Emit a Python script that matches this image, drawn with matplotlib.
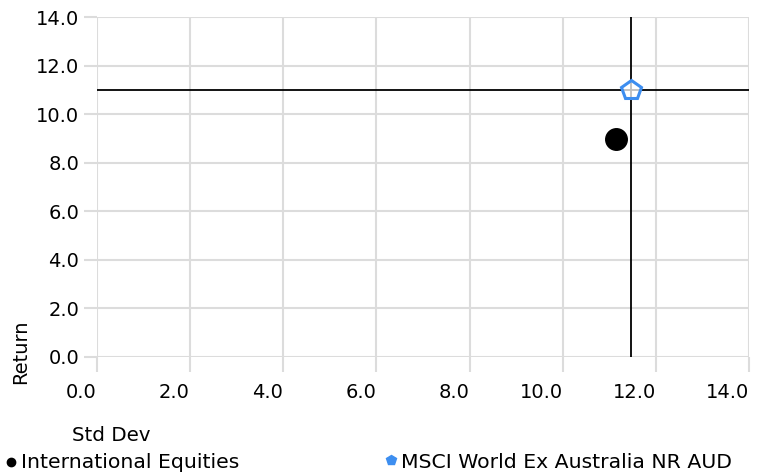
import matplotlib.pyplot as plt

# Risk / return values (annualised, %)
names = ['International Equities', 'MSCI World Ex Australia NR AUD']
std_dev = [11.15, 11.47]
returns = [8.97, 11.0]

ticks = [0, 2, 4, 6, 8, 10, 12, 14]
tick_labels = ['%.1f' % t for t in ticks]

grid_col = '#dcdcdc'
blue = '#3d8ef0'
fs = 14

plt.rcParams['font.family'] = ['DejaVu Sans']
fig = plt.figure(figsize=(7.62, 4.74), dpi=100)
ax = fig.add_axes([0.127, 0.247, 0.856, 0.717])

ax.set_xlim(0, 14)
ax.set_ylim(0, 14)
ax.set_xticks(ticks)
ax.set_yticks(ticks)
ax.set_xticklabels(tick_labels, ha='right')
ax.set_yticklabels(tick_labels)
ax.grid(True, color=grid_col, linewidth=1.5)
ax.set_axisbelow(True)
for s in ax.spines.values():
    s.set_visible(False)
ax.tick_params(axis='x', length=11, width=1.5, color=grid_col, labelsize=fs, pad=8)
ax.tick_params(axis='y', length=9.5, width=1.5, color=grid_col, labelsize=fs, pad=3)

# benchmark crosshair
ax.axhline(returns[1], color='black', linewidth=1.3, zorder=2)
ax.axvline(std_dev[1], color='black', linewidth=1.3, zorder=2)

ax.plot(std_dev[0], returns[0], 'o', color='black', markersize=15.5, zorder=3)
ax.plot(std_dev[1], returns[1], 'p', markerfacecolor=(1, 1, 1, 0.75),
        markeredgecolor=blue, markeredgewidth=2.2, markersize=15, zorder=4)

fig.text(0.014, 0.19, 'Return', rotation=90, fontsize=fs, ha='left', va='bottom')
fig.text(0.095, 0.082, 'Std Dev', fontsize=14.3, ha='left', va='center')

# legend row
fig.lines.append(plt.Line2D([0.0145], [0.026], marker='o', markersize=6,
                            color='black', transform=fig.transFigure))
fig.text(0.028, 0.024, names[0], fontsize=14.7, ha='left', va='center')
fig.lines.append(plt.Line2D([0.513], [0.03], marker='p', markersize=7.5,
                            color=blue, transform=fig.transFigure))
fig.text(0.526, 0.024, names[1], fontsize=14.7, ha='left', va='center')

fig.savefig('out.png', dpi=100)
